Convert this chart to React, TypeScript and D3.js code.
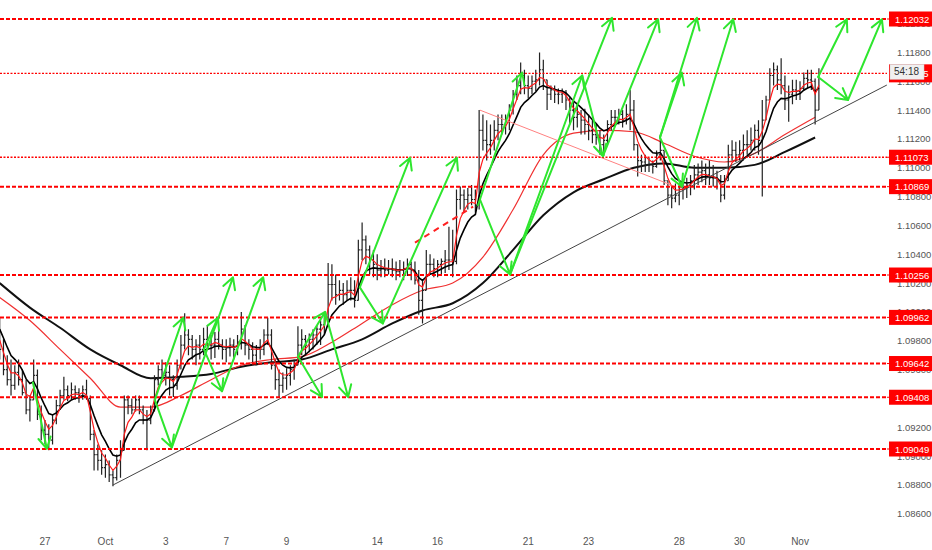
import React from "react";
import * as d3 from "d3";

const W = 932;
const H = 550;
const PLOT_RIGHT = 887;
const BASE = 1.08;
const PIP = 0.0001;

// 3-hour OHLC bars, prices in pips above 1.0800 (open = previous close)
const highs = [
  196,181,170,167,163,167,160,153,142,167,
  160,135,125,122,129,139,146,155,149,151,
  149,147,149,153,142,118,108,104,101,97,
  90,101,111,142,142,140,142,142,135,132,
  135,156,163,167,165,163,156,167,184,199,
  188,184,181,184,189,191,184,186,188,181,
  181,182,181,184,200,191,181,179,177,181,
  188,196,188,167,160,158,161,163,167,190,
  188,184,185,188,191,194,198,234,233,226,
  222,220,222,224,222,250,262,253,246,243,
  240,236,237,236,237,235,236,235,237,235,
  235,229,222,243,240,237,236,237,243,259,
  257,285,287,285,286,288,285,340,337,333,
  330,333,337,337,337,344,354,364,373,368,
  364,364,368,380,375,361,357,357,355,355,
  354,349,347,344,340,341,337,333,330,326,
  323,333,340,340,341,340,344,354,347,316,
  309,309,307,305,312,323,312,291,288,289,
  288,291,293,295,302,303,305,303,305,302,
  298,295,295,316,319,318,319,323,326,328,
  330,333,347,350,369,373,371,376,364,357,
  361,361,360,366,368,368,362,369
];
const lows = [
  167,156,149,142,146,149,142,129,124,139,
  125,111,108,104,108,122,132,139,138,139,
  139,137,139,139,111,90,90,87,85,82,
  79,83,85,104,129,129,131,129,122,104,
  122,131,149,153,149,142,141,146,160,174,
  170,167,163,167,170,174,167,168,174,167,
  165,169,167,170,174,170,167,165,163,167,
  170,177,160,146,141,144,146,149,153,163,
  170,170,172,174,177,177,184,194,208,205,
  208,205,208,208,203,208,236,233,226,224,
  222,224,224,226,224,222,224,222,225,222,
  219,198,192,215,226,224,224,226,227,229,
  224,233,271,269,271,274,269,271,312,305,
  309,312,319,323,323,326,337,347,351,351,
  348,351,353,357,354,340,347,345,344,345,
  340,330,326,328,323,323,319,317,316,309,
  308,316,326,330,330,328,330,326,312,294,
  297,297,297,296,300,305,288,274,272,276,
  274,278,279,281,285,288,290,288,288,287,
  285,276,278,291,305,304,305,305,309,312,
  312,309,280,333,347,357,354,351,340,332,
  344,347,347,354,355,354,330,340
];
const closes = [
  174,160,153,149,158,153,144,132,139,156,
  129,118,115,111,125,135,142,146,142,146,
  144,142,146,140,115,101,97,92,94,87,
  85,97,104,139,135,132,139,132,125,125,
  132,153,160,156,158,153,149,163,177,184,
  181,174,177,174,181,177,177,181,177,174,
  175,177,174,179,188,177,174,170,174,174,
  184,184,163,153,149,154,156,160,163,177,
  181,177,181,184,188,191,196,219,219,212,
  215,212,215,215,208,243,250,243,236,233,
  229,230,229,230,229,228,229,230,233,229,
  222,208,215,233,233,230,233,235,236,236,
  235,278,281,278,281,278,274,326,319,316,
  319,326,330,330,332,340,351,357,364,357,
  355,360,361,368,361,351,354,351,351,352,
  347,340,335,337,333,330,326,323,321,316,
  319,330,335,335,337,333,337,340,316,305,
  304,302,302,301,309,312,291,281,279,281,
  285,286,288,291,295,297,298,295,293,293,
  291,281,291,309,312,309,312,316,316,319,
  326,319,333,347,364,368,361,357,347,351,
  354,353,355,362,361,360,340,365.5
];

// slow moving averages read every 8 bars (pips above 1.0800)
const MA_STEP = 8;
const slowMA = [220,203,189,174,163,154,155,157,162,165,167,174,181,192,201,206,220,243,267,283,292,300,303,300,300,302,311,321];
const midMA = [210,194,174,154,134,134,142,153,163,167,169,179,192,205,215,220,238,271,309,324,326,325,317,308,304,310,323,335];

// horizontal levels
const levelPrices = [1.12032, 1.11073, 1.10869, 1.10256, 1.09962, 1.09642, 1.09408, 1.09049];
const levelDotted = [false, true, false, false, false, false, false, false];
const countdownText = "54:18";

// axes
const yTickValues = [1.086,1.088,1.090,1.092,1.094,1.096,1.098,1.100,1.102,1.104,1.106,1.108,1.110,1.112,1.114,1.116,1.118,1.120];
const dayLabels = ["27","Oct","3","7","9","14","16","21","23","28","30","Nov"];
const dayOffsets = [0,2,4,6,8,11,13,16,18,21,23,25];
const BARS_PER_DAY = 8;
const FIRST_DAY = -1.5;

// drawings: [barFrom, pipsFrom, barTo, pipsTo]
const arrows = [
  [8.8,151,12.5,105],
  [41.1,139,48.6,196],
  [41.1,139,45.6,106],
  [45.6,106,61.8,224],
  [54.1,174,57.8,196],
  [54.1,174,58.9,145],
  [58.9,145,69.8,224],
  [79.0,169,86.2,200],
  [79.0,169,85.4,141],
  [86.2,200,92.3,141],
  [95.4,217,101.5,192],
  [95.4,217,108.7,307],
  [101.5,192,121.1,307],
  [126.7,274,138.4,366],
  [127.2,278,135.2,226],
  [135.2,226,154.3,364],
  [135.2,226,162.2,404],
  [154.3,364,159.8,308],
  [159.8,308,174.4,403],
  [174.9,321,180.7,287],
  [174.9,321,180.7,366],
  [174.9,321,184.7,404],
  [180.7,287,194.3,403],
  [216.8,363,224.4,403],
  [216.8,363,224.7,347],
  [224.7,347,233.7,403]
];
const trendLine = [30.0, 79.9, 235.0, 357.4];
const pinkLine = [127.2, 340, 178.9, 287];
const redDashLine = [110.0, 248, 125.4, 273];

const px = (v: number) => BASE + v * PIP;

function emaSeries(vals: number[], alpha: number, seed: number) {
  const out: number[] = [];
  let e = seed;
  vals.forEach((v) => {
    e = e + alpha * (v - e);
    out.push(e);
  });
  return out;
}

function arrowPath(x1: number, y1: number, x2: number, y2: number) {
  const a = Math.atan2(y2 - y1, x2 - x1);
  const L = 13, t = 0.5;
  const w1x = x2 - L * Math.cos(a - t), w1y = y2 - L * Math.sin(a - t);
  const w2x = x2 - L * Math.cos(a + t), w2y = y2 - L * Math.sin(a + t);
  return `M${x1},${y1}L${x2},${y2}M${w1x},${w1y}L${x2},${y2}L${w2x},${w2y}`;
}

export default function App() {
  const n = closes.length;
  const x = d3.scaleLinear().domain([0, n - 1]).range([-0.3, 818.9]);
  const y = d3.scaleLinear().domain([1.12032, 1.09049]).range([19, 449]);

  const fastRed = emaSeries(closes, 0.42, 185);
  const fastBlack = emaSeries(closes, 0.22, 192);

  const line = d3.line<[number, number]>().x((d) => x(d[0])).y((d) => y(px(d[1])));
  const smooth = d3.line<[number, number]>().x((d) => x(d[0])).y((d) => y(px(d[1]))).curve(d3.curveMonotoneX);

  const slowPts: [number, number][] = slowMA.map((v, i) => [i * MA_STEP, v]);
  const midPts: [number, number][] = midMA.map((v, i) => [i * MA_STEP, v]);
  const fastRedPts: [number, number][] = fastRed.map((v, i) => [i, v]);
  const fastBlackPts: [number, number][] = fastBlack.map((v, i) => [i, v]);

  const lastPrice = px(closes[n - 1]);
  const font = "'Liberation Sans', Arial, sans-serif";

  return (
    <svg width={W} height={H} style={{ position: "absolute", left: 0, top: 0, background: "#fff" }}>
      <defs>
        <clipPath id="plot">
          <rect x={0} y={0} width={PLOT_RIGHT} height={528} />
        </clipPath>
      </defs>
      <rect x={0} y={0} width={W} height={H} fill="#fff" />
      <g clipPath="url(#plot)">
        {/* moving averages */}
        <path d={smooth(slowPts) || ""} fill="none" stroke="#111" strokeWidth={2} />
        <path d={smooth(midPts) || ""} fill="none" stroke="#f03030" strokeWidth={1.2} />
        {/* bars */}
        {closes.map((c, i) => {
          const o = i === 0 ? c : closes[i - 1];
          const hi = Math.max(highs[i], o, c);
          const lo = Math.min(lows[i], o, c);
          const xi = x(i);
          return (
            <path
              key={i}
              d={`M${xi},${y(px(hi))}V${y(px(lo))}M${xi - 1.5},${y(px(o))}H${xi}M${xi},${y(px(c))}H${xi + 1.5}`}
              stroke="#222"
              strokeWidth={1.2}
              fill="none"
            />
          );
        })}
        <path d={line(fastBlackPts) || ""} fill="none" stroke="#000" strokeWidth={1.6} />
        <path d={line(fastRedPts) || ""} fill="none" stroke="#ff1a1a" strokeWidth={1.2} />
        {/* trend line and drawings */}
        <path d={line([[trendLine[0], trendLine[1]], [trendLine[2], trendLine[3]]]) || ""} stroke="#444" strokeWidth={1} fill="none" />
        <path d={line([[pinkLine[0], pinkLine[1]], [pinkLine[2], pinkLine[3]]]) || ""} stroke="#ff8080" strokeWidth={1} fill="none" />
        <path d={line([[redDashLine[0], redDashLine[1]], [redDashLine[2], redDashLine[3]]]) || ""} stroke="#ff2020" strokeWidth={2} strokeDasharray="6 5" fill="none" />
        {/* levels */}
        {levelPrices.map((p, i) => (
          <line key={i} x1={0} x2={PLOT_RIGHT} y1={y(p)} y2={y(p)} stroke="#ff0000"
            strokeWidth={levelDotted[i] ? 1.3 : 2} strokeDasharray={levelDotted[i] ? "2 1.5" : "4 2"} />
        ))}
        <line x1={0} x2={PLOT_RIGHT} y1={y(lastPrice)} y2={y(lastPrice)} stroke="#ff0000" strokeWidth={1.3} strokeDasharray="2 1.5" />
        {/* arrows */}
        {arrows.map((a, i) => (
          <path key={i} d={arrowPath(x(a[0]), y(px(a[1])), x(a[2]), y(px(a[3])))}
            stroke="#2ee62e" strokeWidth={2} fill="none" strokeLinecap="round" strokeLinejoin="round" />
        ))}
      </g>
      {/* right axis */}
      {yTickValues.map((t, i) => (
        <text key={i} x={897} y={y(t) + 3.5} fontSize={9.5} fill="#555" fontFamily={font}>{t.toFixed(5)}</text>
      ))}
      {levelPrices.map((p, i) => (
        <g key={i}>
          <line x1={PLOT_RIGHT} x2={890} y1={y(p)} y2={y(p)} stroke="#ff0000" strokeWidth={1} />
          <rect x={889} y={y(p) - 7.5} width={43} height={15} fill="#ff0000" />
          <text x={895} y={y(p) + 3.5} fontSize={9.5} fill="#fff" fontFamily={font}>{p.toFixed(5)}</text>
        </g>
      ))}
      <g>
        <rect x={889} y={y(lastPrice) - 9} width={43} height={18} fill="#ff0000" />
        <text x={895} y={y(lastPrice) + 3.5} fontSize={9.5} fill="#fff" fontFamily={font}>{lastPrice.toFixed(5)}</text>
        <rect x={890} y={y(lastPrice) - 9} width={34} height={15} fill="#f0f0f0" stroke="#ccc" strokeWidth={0.5} />
        <text x={894} y={y(lastPrice) + 2} fontSize={10} fill="#333" fontFamily={font}>{countdownText}</text>
      </g>
      {/* bottom axis */}
      {dayLabels.map((lab, i) => (
        <text key={i} x={x((dayOffsets[i] - FIRST_DAY) * BARS_PER_DAY)} y={545} fontSize={10} fill="#555"
          textAnchor="middle" fontFamily={font}>{lab}</text>
      ))}
    </svg>
  );
}
